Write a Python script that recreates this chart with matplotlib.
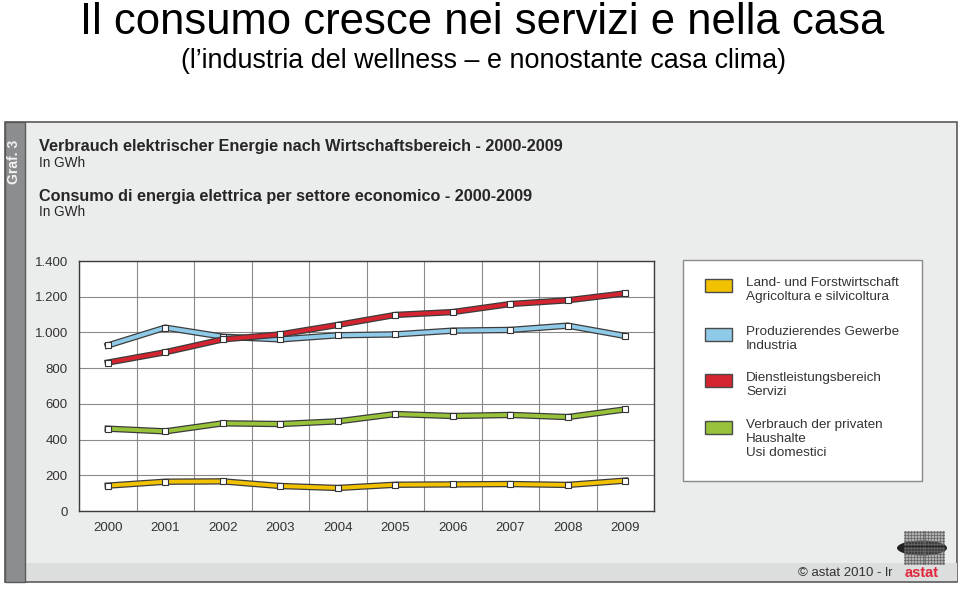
import numpy as np
import matplotlib
matplotlib.use("Agg")
import matplotlib.pyplot as plt
import matplotlib.patheffects as pe
from matplotlib.patches import Rectangle, Ellipse

plt.rcParams["font.family"] = ["Liberation Sans", "DejaVu Sans"]

# data (GWh)
years = ["2000", "2001", "2002", "2003", "2004", "2005", "2006", "2007", "2008", "2009"]
agricoltura = [142, 164, 166, 140, 129, 147, 149, 151, 146, 170]
industria = [927, 1027, 976, 961, 984, 989, 1010, 1014, 1038, 980]
servizi = [831, 889, 961, 989, 1042, 1098, 1114, 1159, 1180, 1219]
domestici = [461, 446, 491, 487, 502, 543, 532, 538, 526, 569]
yticks = [0, 200, 400, 600, 800, 1000, 1200, 1400]
ytick_labels = ["0", "200", "400", "600", "800", "1.000", "1.200", "1.400"]
legend_labels = ["Land- und Forstwirtschaft\nAgricoltura e silvicoltura",
                 "Produzierendes Gewerbe\nIndustria",
                 "Dienstleistungsbereich\nServizi",
                 "Verbrauch der privaten\nHaushalte\nUsi domestici"]
colors = ["#f2c200", "#8fcbe8", "#d42430", "#98c23a"]
series = [agricoltura, industria, servizi, domestici]

W, H = 960, 590
fig = plt.figure(figsize=(9.6, 5.9), dpi=100)
fig.patch.set_facecolor("white")


def fx(px):
    return px / W


def fy(py):
    return 1 - py / H


def frect(x0, y0, x1, y1, **kw):
    fig.patches.append(Rectangle((fx(x0), fy(y1)), fx(x1 - x0), (y1 - y0) / H,
                                 transform=fig.transFigure, **kw))


# slide title
fig.text(fx(482), fy(22), "Il consumo cresce nei servizi e nella casa", ha="center", va="center",
         fontsize=31.4, color="black")
fig.text(fx(483), fy(61), "(l\u2019industria del wellness \u2013 e nonostante casa clima)",
         ha="center", va="center", fontsize=19.4, color="black")

# embedded graphic panel
frect(5, 122, 957, 582, facecolor="#ebecec", edgecolor="#5a5a5a", lw=1.2, zorder=0)
frect(25, 563, 957, 581, facecolor="#dcdddd", edgecolor="none", zorder=0)
frect(5, 122, 25, 582, facecolor="#8b8d8f", edgecolor="#5a5a5a", lw=1.0, zorder=0)
fig.text(fx(14), fy(162), "Graf. 3", rotation=90, ha="center", va="center",
         fontsize=10, fontweight="bold", color="#f2f2f2")

fig.text(fx(39), fy(147), "Verbrauch elektrischer Energie nach Wirtschaftsbereich - 2000-2009",
         fontsize=11.7, fontweight="bold", color="#262626", va="center")
fig.text(fx(39), fy(163), "In GWh", fontsize=9.8, color="#262626", va="center")
fig.text(fx(39), fy(196), "Consumo di energia elettrica per settore economico - 2000-2009",
         fontsize=11.7, fontweight="bold", color="#262626", va="center")
fig.text(fx(39), fy(212), "In GWh", fontsize=9.8, color="#262626", va="center")

# chart
ax = fig.add_axes([fx(79), fy(511), fx(654 - 79), (511 - 261) / H], zorder=2)
ax.set_facecolor("white")
x = np.arange(len(years))
for vals, c in zip(series, colors):
    ax.plot(x, vals, color=c, lw=2.8, solid_joinstyle="round", zorder=3,
            path_effects=[pe.Stroke(linewidth=4.6, foreground="#3c3c3c"), pe.Normal()])
    ax.plot(x, vals, ls="none", marker="s", ms=4, mfc="white", mec="#333333", mew=0.8, zorder=4)

ax.set_xlim(-0.5, len(years) - 0.5)
ax.set_ylim(0, 1400)
ax.set_yticks(yticks)
ax.set_yticklabels(ytick_labels)
ax.set_xticks(x)
ax.set_xticklabels(years)
ax.set_xticks(np.arange(len(years) + 1) - 0.5, minor=True)
ax.grid(True, which="minor", axis="x", color="#8a8a8a", lw=0.8)
ax.grid(True, which="major", axis="y", color="#8a8a8a", lw=0.8)
ax.set_axisbelow(True)
ax.tick_params(which="both", length=0, labelsize=9.5, colors="#333333", pad=8)
ax.tick_params(axis="y", pad=8)
for s in ax.spines.values():
    s.set_color("#3c3c3c")
    s.set_linewidth(1.0)

# legend box
frect(683, 260, 922, 481, facecolor="white", edgecolor="#8a8a8a", lw=1.0, zorder=1)
legend_tops = [279, 328, 374, 421]
for top, lab, c in zip(legend_tops, legend_labels, colors):
    frect(705, top, 732, top + 13, facecolor=c, edgecolor="#4a4a4a", lw=1.0, zorder=2)
    fig.text(fx(746), fy(top - 2), lab, fontsize=9.7, color="#333333", va="top",
             linespacing=1.25, zorder=3)

# footer
fig.text(fx(798), fy(573), "\u00a9 astat 2010 - lr", fontsize=9.5, color="#333333", va="center")
gx, gy = np.meshgrid(np.linspace(fx(905), fx(943), 14), np.linspace(fy(563), fy(532), 11))
fig.add_artist(plt.Line2D(gx.ravel(), gy.ravel(), ls="none", marker="s", ms=0.9,
                          color="#666666", transform=fig.transFigure))
fig.patches.append(Ellipse((fx(922), fy(548)), fx(50), 15 / H, transform=fig.transFigure,
                           facecolor="#222222", edgecolor="none", zorder=1))
fig.text(fx(922), fy(573), "astat", fontsize=10.5, fontweight="bold", color="#e0283c",
         ha="center", va="center")

fig.savefig("out.png", dpi=100, facecolor="white")
